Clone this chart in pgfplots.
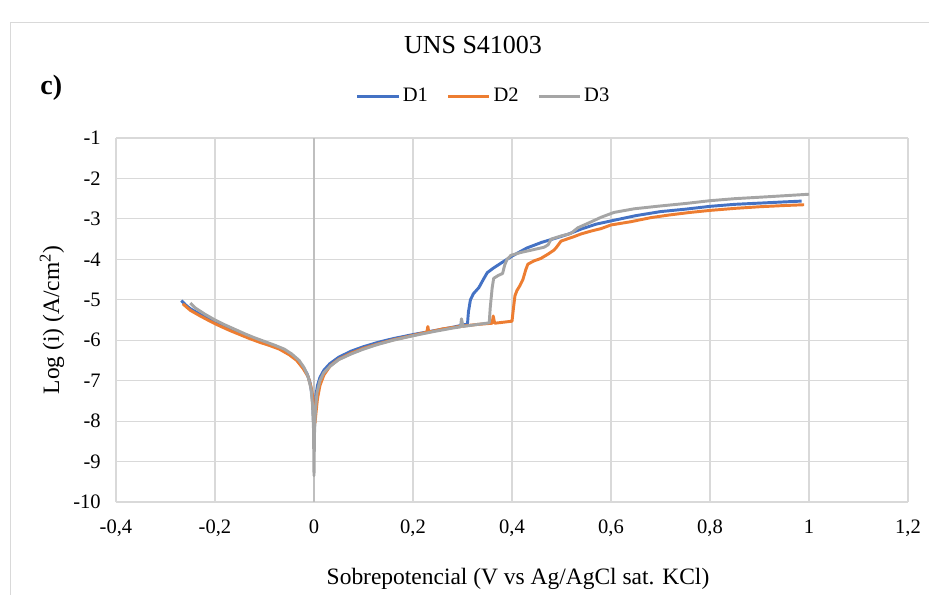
\documentclass[border=0pt]{standalone}
\usepackage{pgfplots}
\pgfplotsset{compat=1.18}
\usepackage{fontspec}
\setmainfont{Liberation Serif}
\definecolor{cD1}{HTML}{4472C4}
\definecolor{cD2}{HTML}{ED7D31}
\definecolor{cD3}{HTML}{A5A5A5}
\definecolor{gridc}{HTML}{D9D9D9}
\definecolor{zeroc}{HTML}{BFBFBF}
\begin{document}
\begin{tikzpicture}
\path[use as bounding box] (0pt,0pt) rectangle (696.75pt,-446.25pt);
\draw[gridc, line width=0.8pt] (7.9pt,-446.25pt) -- (7.9pt,-16.9pt) -- (696.75pt,-16.9pt);
\node[font=\fontsize{21}{24}\selectfont\bfseries] at (38.5pt,-66pt) {c)};
\begin{axis}[
  at={(87pt,-376.5pt)}, anchor=south west,
  scale only axis, width=594pt, height=273pt,
  xmin=-0.4, xmax=1.2, ymin=-10, ymax=-1,
  axis line style={draw=none},
  xtick={-0.4,-0.2,0,0.2,0.4,0.6,0.8,1,1.2},
  xticklabels={{-0,4},{-0,2},{0},{0,2},{0,4},{0,6},{0,8},{1},{1,2}},
  ytick={-10,-9,-8,-7,-6,-5,-4,-3,-2,-1},
  yticklabels={-10,-9,-8,-7,-6,-5,-4,-3,-2,-1},
  major tick length=0pt,
  tick label style={font=\fontsize{15.4}{18}\selectfont},
  xticklabel style={yshift=-10pt},
  yticklabel style={xshift=-8pt},
  grid=major,
  major grid style={gridc, line width=0.9pt},
  extra x ticks={0}, extra x tick labels={},
  extra x tick style={major grid style={zeroc, line width=1.1pt}},
  every axis title shift=0pt,
  title={UNS S41003},
  title style={at={(axis description cs:0.4508,1.2555)}, anchor=center, font=\fontsize{19.5}{22}\selectfont},
  xlabel={Sobrepotencial (V vs Ag/AgCl sat. KCl)},
  xlabel style={at={(axis description cs:0.5076,-0.21)}, anchor=center, font=\fontsize{17.6}{20}\selectfont},
  ylabel={Log (i) (A/cm\textsuperscript{2})},
  ylabel style={at={(axis description cs:-0.0808,0.5)}, anchor=center, font=\fontsize{17.6}{20}\selectfont},
  legend columns=3,
  legend style={at={(axis description cs:0.4646,1.115)}, anchor=center, draw=none, fill=none,
    font=\fontsize{15.4}{18}\selectfont,
    /tikz/every even column/.append style={column sep=12pt},
    /tikz/every odd column/.append style={column sep=0pt}},
  legend image code/.code={\draw[#1, line width=2.2pt] (0pt,0pt) -- (31pt,0pt);},
  every axis plot/.append style={line width=2.2pt, line join=round, mark=none},
]
\addplot[cD1] coordinates {
(-0.268,-5.02) (-0.26,-5.12) (-0.25,-5.22) (-0.23,-5.36) (-0.21,-5.49) (-0.19,-5.61)
(-0.17,-5.72) (-0.15,-5.82) (-0.13,-5.93) (-0.11,-6.02) (-0.09,-6.10) (-0.07,-6.19)
(-0.05,-6.32) (-0.035,-6.47) (-0.022,-6.66) (-0.014,-6.83) (-0.008,-7.05) (-0.004,-7.35)
(-0.002,-7.7) (0.0,-8.3) (0.002,-7.7) (0.004,-7.35) (0.007,-7.12) (0.012,-6.92)
(0.02,-6.74) (0.032,-6.58) (0.05,-6.42) (0.075,-6.27) (0.1,-6.16) (0.13,-6.05)
(0.16,-5.96) (0.2,-5.86) (0.24,-5.77) (0.28,-5.68) (0.31,-5.60) (0.312,-5.3)
(0.316,-5.0) (0.322,-4.85) (0.333,-4.7) (0.342,-4.5) (0.35,-4.33) (0.362,-4.22)
(0.377,-4.1) (0.40,-3.92) (0.43,-3.72) (0.445,-3.65) (0.46,-3.58) (0.49,-3.47)
(0.513,-3.38) (0.54,-3.25) (0.57,-3.13) (0.6,-3.05) (0.65,-2.92) (0.7,-2.82)
(0.75,-2.76) (0.8,-2.69) (0.85,-2.64) (0.9,-2.61) (0.95,-2.58) (0.985,-2.56)
};
\addlegendentry{D1}
\addplot[cD2] coordinates {
(-0.265,-5.1) (-0.25,-5.26) (-0.23,-5.4) (-0.21,-5.53) (-0.19,-5.65) (-0.17,-5.76)
(-0.15,-5.86) (-0.13,-5.96) (-0.11,-6.05) (-0.09,-6.13) (-0.07,-6.22) (-0.05,-6.36)
(-0.035,-6.5) (-0.022,-6.7) (-0.012,-6.9) (-0.006,-7.15) (-0.002,-7.45) (0.0,-7.8)
(0.002,-8.05) (0.004,-7.8) (0.007,-7.45) (0.012,-7.12) (0.02,-6.86) (0.033,-6.63)
(0.05,-6.47) (0.075,-6.32) (0.1,-6.2) (0.13,-6.09) (0.16,-5.99) (0.2,-5.88)
(0.228,-5.80) (0.23,-5.66) (0.232,-5.80) (0.26,-5.72) (0.3,-5.65) (0.33,-5.61)
(0.36,-5.58) (0.362,-5.40) (0.365,-5.58) (0.40,-5.53) (0.403,-5.2) (0.406,-4.9)
(0.41,-4.77) (0.416,-4.65) (0.422,-4.5) (0.428,-4.25) (0.432,-4.12) (0.444,-4.04)
(0.458,-3.98) (0.473,-3.87) (0.485,-3.77) (0.49,-3.7) (0.499,-3.55) (0.513,-3.49)
(0.525,-3.44) (0.54,-3.37) (0.56,-3.3) (0.58,-3.24) (0.6,-3.15) (0.64,-3.07)
(0.68,-2.97) (0.72,-2.9) (0.76,-2.84) (0.8,-2.79) (0.85,-2.74) (0.9,-2.7)
(0.95,-2.67) (0.99,-2.65)
};
\addlegendentry{D2}
\addplot[cD3] coordinates {
(-0.25,-5.08) (-0.24,-5.2) (-0.22,-5.36) (-0.2,-5.5) (-0.18,-5.62) (-0.16,-5.73)
(-0.14,-5.84) (-0.12,-5.94) (-0.1,-6.03) (-0.08,-6.12) (-0.06,-6.22) (-0.045,-6.34)
(-0.03,-6.5) (-0.02,-6.68) (-0.012,-6.9) (-0.006,-7.2) (-0.003,-7.6) (-0.001,-8.2)
(0.0,-9.35) (0.001,-8.3) (0.003,-7.7) (0.006,-7.3) (0.012,-7.0) (0.02,-6.8)
(0.032,-6.65) (0.05,-6.48) (0.075,-6.34) (0.1,-6.22) (0.13,-6.1) (0.16,-6.0)
(0.2,-5.89) (0.24,-5.79) (0.28,-5.7) (0.296,-5.67) (0.298,-5.47) (0.301,-5.66)
(0.33,-5.61) (0.354,-5.57) (0.356,-5.2) (0.358,-4.95) (0.36,-4.7) (0.363,-4.47)
(0.372,-4.4) (0.381,-4.35) (0.385,-4.15) (0.39,-4.0) (0.398,-3.9) (0.418,-3.83)
(0.44,-3.77) (0.465,-3.7) (0.473,-3.64) (0.479,-3.5) (0.5,-3.42) (0.519,-3.36)
(0.533,-3.22) (0.555,-3.1) (0.58,-2.96) (0.606,-2.84) (0.647,-2.75) (0.7,-2.68)
(0.75,-2.62) (0.8,-2.55) (0.85,-2.5) (0.92,-2.45) (0.96,-2.42) (1.0,-2.39)
};
\addlegendentry{D3}
\end{axis}
\end{tikzpicture}
\end{document}
